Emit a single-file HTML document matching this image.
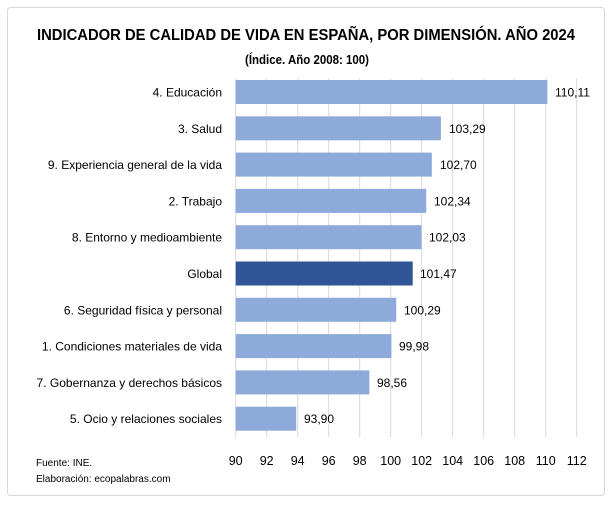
<!DOCTYPE html>
<html><head><meta charset="utf-8"><style>
html,body{margin:0;padding:0;background:#fff;}
text{font-family:"Liberation Sans",sans-serif;fill:#000;}
</style></head><body>
<svg width="613" height="502" viewBox="0 0 613 502" xmlns="http://www.w3.org/2000/svg">
<rect x="0" y="0" width="613" height="502" fill="#fff"/>
<rect x="7.5" y="7.5" width="597" height="488" rx="3" fill="#fff" stroke="#d9d9d9" stroke-width="1"/>
<text x="306" y="40" text-anchor="middle" font-size="15.5" font-weight="bold" textLength="538" lengthAdjust="spacingAndGlyphs">INDICADOR DE CALIDAD DE VIDA EN ESPAÑA, POR DIMENSIÓN. AÑO 2024</text>
<text x="307" y="64" text-anchor="middle" font-size="12.5" font-weight="bold" textLength="124" lengthAdjust="spacingAndGlyphs">(Índice. Año 2008: 100)</text>
<g stroke="#d9d9d9" stroke-width="1">
<line x1="235.7" y1="78" x2="235.7" y2="437"/><line x1="266.7" y1="78" x2="266.7" y2="437"/><line x1="297.7" y1="78" x2="297.7" y2="437"/><line x1="328.7" y1="78" x2="328.7" y2="437"/><line x1="359.7" y1="78" x2="359.7" y2="437"/><line x1="390.7" y1="78" x2="390.7" y2="437"/><line x1="421.7" y1="78" x2="421.7" y2="437"/><line x1="452.7" y1="78" x2="452.7" y2="437"/><line x1="483.7" y1="78" x2="483.7" y2="437"/><line x1="514.7" y1="78" x2="514.7" y2="437"/><line x1="545.7" y1="78" x2="545.7" y2="437"/><line x1="576.7" y1="78" x2="576.7" y2="437"/>
</g>
<g font-size="12">
<rect x="235.7" y="80" width="311.7" height="24" fill="#8eaadb"/>
<text x="222" y="96.5" text-anchor="end">4. Educación</text><text x="555" y="96.5">110,11</text>
<rect x="235.7" y="116.3" width="205.2" height="24" fill="#8eaadb"/>
<text x="222" y="132.8" text-anchor="end">3. Salud</text><text x="449" y="132.8">103,29</text>
<rect x="235.7" y="152.6" width="196.1" height="24" fill="#8eaadb"/>
<text x="222" y="169.1" text-anchor="end">9. Experiencia general de la vida</text><text x="440" y="169.1">102,70</text>
<rect x="235.7" y="188.9" width="190.5" height="24" fill="#8eaadb"/>
<text x="222" y="205.4" text-anchor="end">2. Trabajo</text><text x="434" y="205.4">102,34</text>
<rect x="235.7" y="225.2" width="185.7" height="24" fill="#8eaadb"/>
<text x="222" y="241.7" text-anchor="end">8. Entorno y medioambiente</text><text x="429" y="241.7">102,03</text>
<rect x="235.7" y="261.5" width="177" height="24" fill="#2f5597"/>
<text x="222" y="278" text-anchor="end">Global</text><text x="420" y="278">101,47</text>
<rect x="235.7" y="297.8" width="160.5" height="24" fill="#8eaadb"/>
<text x="222" y="314.3" text-anchor="end">6. Seguridad física y personal</text><text x="404" y="314.3">100,29</text>
<rect x="235.7" y="334.1" width="155.7" height="24" fill="#8eaadb"/>
<text x="222" y="350.6" text-anchor="end">1. Condiciones materiales de vida</text><text x="399" y="350.6">99,98</text>
<rect x="235.7" y="370.4" width="133.7" height="24" fill="#8eaadb"/>
<text x="222" y="386.9" text-anchor="end">7. Gobernanza y derechos básicos</text><text x="377" y="386.9">98,56</text>
<rect x="235.7" y="406.7" width="60.5" height="24" fill="#8eaadb"/>
<text x="222" y="423.2" text-anchor="end">5. Ocio y relaciones sociales</text><text x="304" y="423.2">93,90</text>
</g>
<g font-size="12.5" text-anchor="middle">
<text x="235.7" y="465">90</text><text x="266.7" y="465">92</text><text x="297.7" y="465">94</text><text x="328.7" y="465">96</text><text x="359.7" y="465">98</text><text x="390.7" y="465">100</text><text x="421.7" y="465">102</text><text x="452.7" y="465">104</text><text x="483.7" y="465">106</text><text x="514.7" y="465">108</text><text x="545.7" y="465">110</text><text x="576.7" y="465">112</text>
</g>
<text x="36" y="466" font-size="10">Fuente: INE.</text>
<text x="36" y="482" font-size="10">Elaboración: ecopalabras.com</text>
</svg>
</body></html>
